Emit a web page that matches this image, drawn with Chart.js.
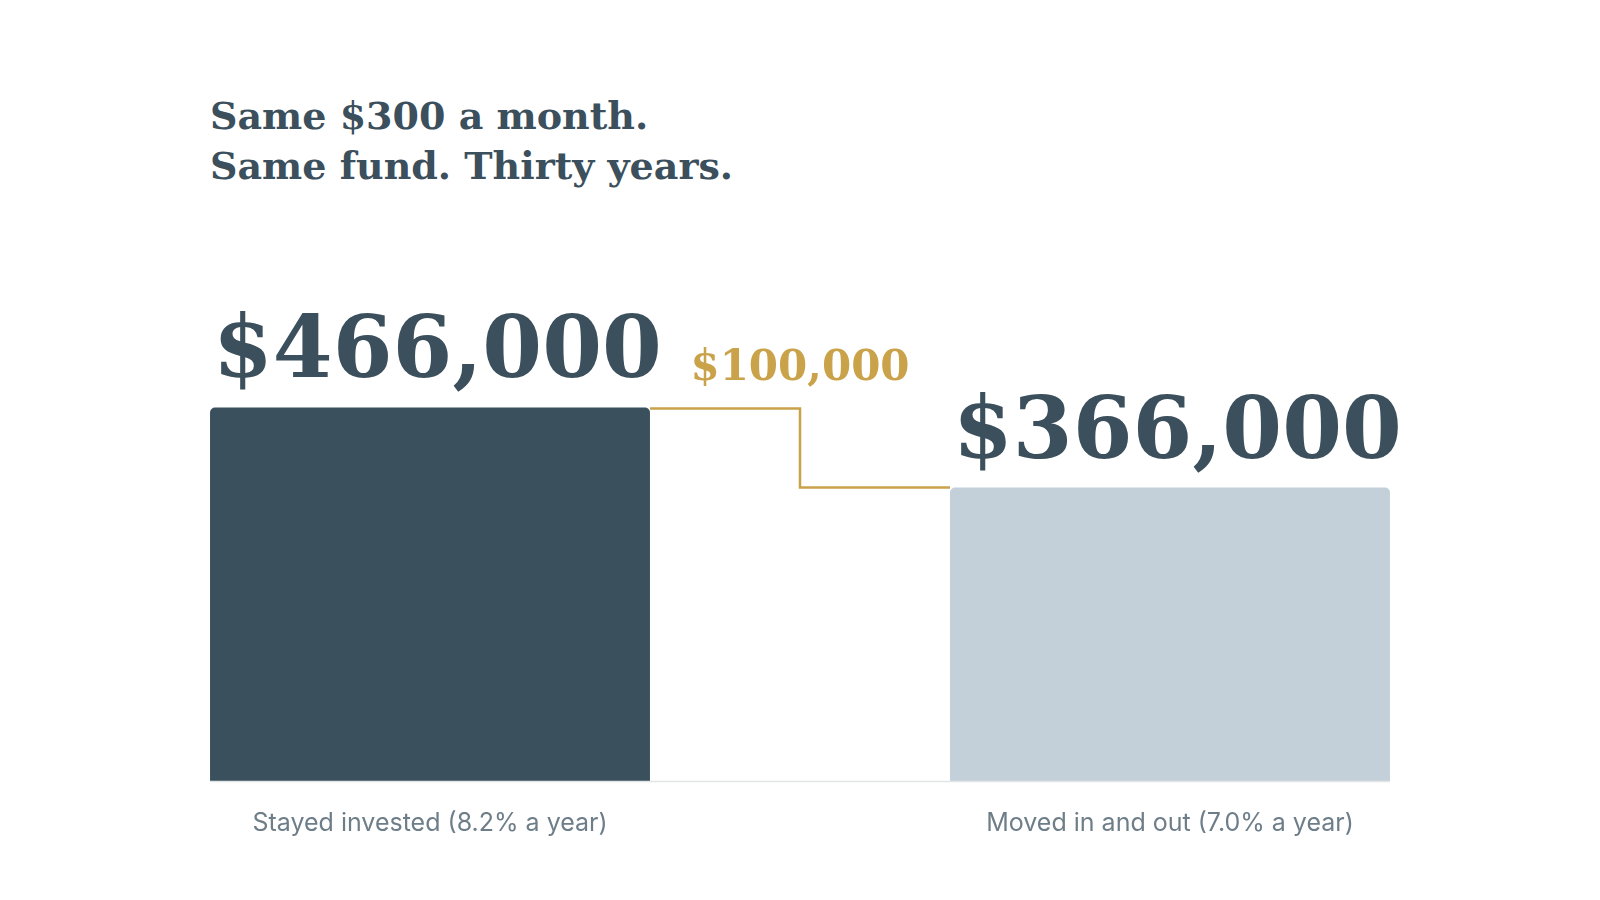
<!DOCTYPE html>
<html>
<head>
<meta charset="utf-8">
<title>Same $300 a month</title>
<script src="https://cdn.jsdelivr.net/npm/chart.js@4"></script>
<style>
  html, body { margin: 0; padding: 0; background: #fff; }
  .wrap { position: relative; width: 1600px; height: 900px; }
  h1 {
    position: absolute; left: 210px; top: 91px; margin: 0;
    font-family: "DejaVu Serif", serif; font-weight: bold;
    font-size: 38px; line-height: 50px; color: #3b4f5c;
  }
  canvas { position: absolute; left: 0; top: 0; }
</style>
</head>
<body>
<div class="wrap">
  <h1 id="title"></h1>
  <canvas id="chart" width="1600" height="900"></canvas>
</div>
<script>
(function () {
  "use strict";

  // --- Data
  var titleLines = ["Same $300 a month.", "Same fund. Thirty years."];
  var categories = ["Stayed invested (8.2% a year)", "Moved in and out (7.0% a year)"];
  var values = [466000, 366000];
  var barColors = ["#3a505c", "#c4d0d9"];

  var colors = {
    ink: "#3b4f5c",
    label: "#6e7e89",
    gold: "#c9a24a",
    rule: "#e1e5e8",
  };

  function money(v) {
    return "$" + v.toLocaleString("en-US");
  }

  document.getElementById("title").innerHTML = titleLines.join("<br>");

  // --- Overlay: value labels, baseline, step connector and gap label
  var overlay = {
    id: "overlay",
    afterDatasetsDraw: function (chart) {
      var ctx = chart.ctx;
      var bars = chart.getDatasetMeta(0).data;
      var a = bars[0], b = bars[1];
      var aLeft = a.x - a.width / 2, aRight = a.x + a.width / 2;
      var bLeft = b.x - b.width / 2, bRight = b.x + b.width / 2;
      var base = chart.chartArea.bottom;

      ctx.save();

      // baseline
      ctx.strokeStyle = colors.rule;
      ctx.lineWidth = 1.5;
      ctx.beginPath();
      ctx.moveTo(aLeft, base + 0.5);
      ctx.lineTo(bRight, base + 0.5);
      ctx.stroke();

      // big values
      ctx.fillStyle = colors.ink;
      ctx.font = "bold 86px 'DejaVu Serif', serif";
      ctx.textAlign = "left";
      ctx.textBaseline = "alphabetic";
      bars.forEach(function (bar, i) {
        ctx.fillText(money(values[i]), bar.x - bar.width / 2 + 3, bar.y - 30);
      });

      // step connector
      var mid = (aRight + bLeft) / 2;
      ctx.strokeStyle = colors.gold;
      ctx.lineWidth = 2.5;
      ctx.beginPath();
      ctx.moveTo(aRight, a.y + 1);
      ctx.lineTo(mid, a.y + 1);
      ctx.lineTo(mid, b.y);
      ctx.lineTo(bLeft, b.y);
      ctx.stroke();

      // gap label
      ctx.fillStyle = colors.gold;
      ctx.font = "bold 42px 'DejaVu Serif', serif";
      ctx.textAlign = "center";
      ctx.fillText(money(values[0] - values[1]), mid, a.y - 27);

      ctx.restore();
    },
  };

  new Chart(document.getElementById("chart"), {
    type: "bar",
    data: {
      labels: categories,
      datasets: [
        {
          data: values,
          backgroundColor: barColors,
          borderWidth: 0,
          borderRadius: { topLeft: 5, topRight: 5 },
          borderSkipped: "bottom",
          categoryPercentage: 1,
          barPercentage: 0.5945,
        },
      ],
    },
    options: {
      responsive: false,
      devicePixelRatio: 1,
      animation: false,
      layout: { padding: { top: 300, left: 60, right: 60, bottom: 43 } },
      plugins: {
        legend: { display: false },
        tooltip: { enabled: false },
      },
      scales: {
        x: {
          grid: { display: false },
          border: { display: false },
          ticks: {
            color: colors.label,
            padding: 19,
            font: { family: "Inter, 'Noto Sans', sans-serif", size: 25 },
          },
        },
        y: {
          display: false,
          beginAtZero: true,
          min: 0,
          max: 600000,
        },
      },
    },
    plugins: [overlay],
  });
})();
</script>
</body>
</html>
